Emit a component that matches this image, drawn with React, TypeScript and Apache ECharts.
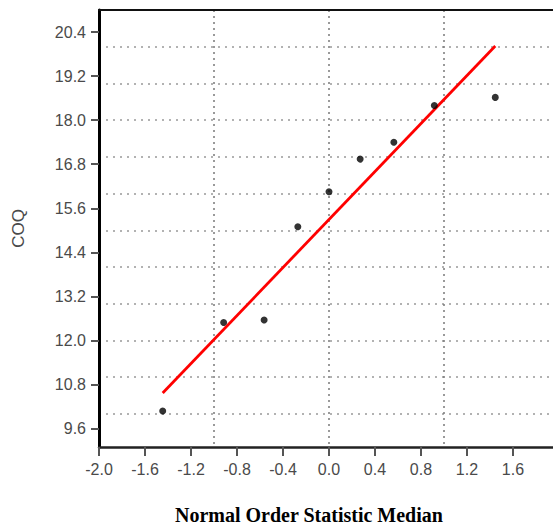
import React, { useEffect, useRef } from "react";
import * as echarts from "echarts";

const xTickLabels = [-2.0, -1.6, -1.2, -0.8, -0.4, 0.0, 0.4, 0.8, 1.2, 1.6];
const yTickLabels = [9.6, 10.8, 12.0, 13.2, 14.4, 15.6, 16.8, 18.0, 19.2, 20.4];
const xGridValues = [-1, 0, 1];
const yGridValues = [10, 11, 12, 13, 14, 15, 16, 17, 18, 19, 20, 21];

// Normal order statistic medians (x) and COQ values (y)
const osm = [-1.446, -0.916, -0.564, -0.271, 0.0, 0.271, 0.564, 0.916, 1.446];
const coq = [10.08, 12.49, 12.56, 15.1, 16.05, 16.94, 17.4, 18.4, 18.62];

// Fitted line end points
const fitX = [-1.446, 1.446];
const fitY = [10.57, 20.02];

const yAxisTitle = "COQ";
const xAxisTitle = "Normal Order Statistic Median";

export default function App() {
  const ref = useRef<HTMLDivElement>(null);

  useEffect(() => {
    if (!ref.current) return;
    const chart = echarts.init(ref.current, null, { renderer: "svg" });
    const labelFont = {
      fontFamily: "Liberation Sans, Arial, sans-serif",
      fontSize: 16,
      color: "#4a4a4a",
    };
    chart.setOption({
      animation: false,
      backgroundColor: "#fff",
      grid: { left: 99, right: 0, top: 10, bottom: 78, containLabel: false },
      xAxis: [
        {
          type: "value",
          min: -2,
          max: 1.948,
          position: "bottom",
          axisLine: { show: true, onZero: false, lineStyle: { color: "#222", width: 2.5 } },
          axisTick: {
            show: true,
            length: 9,
            customValues: xTickLabels,
            lineStyle: { color: "#555", width: 2 },
          },
          axisLabel: {
            show: true,
            customValues: xTickLabels,
            margin: 14,
            formatter: (v: number) => v.toFixed(1),
            ...labelFont,
          },
          splitLine: { show: false },
        },
        {
          type: "value",
          min: -2,
          max: 1.948,
          position: "top",
          axisLine: { show: true, onZero: false, lineStyle: { color: "#111", width: 2 } },
          axisTick: { show: false, customValues: xGridValues },
          axisLabel: { show: false },
          splitLine: {
            show: true,
            lineStyle: { color: "#7a7a7a", width: 1.5, type: [2, 4] },
          },
        },
      ],
      yAxis: [
        {
          type: "value",
          min: 9.1,
          max: 21,
          position: "left",
          name: yAxisTitle,
          nameLocation: "middle",
          nameRotate: 90,
          nameGap: 72,
          nameTextStyle: {
            fontFamily: "Liberation Sans, Arial, sans-serif",
            fontSize: 17,
            color: "#4a4a4a",
          },
          axisLine: { show: true, onZero: false, lineStyle: { color: "#000", width: 3 } },
          axisTick: {
            show: true,
            length: 8,
            customValues: yTickLabels,
            lineStyle: { color: "#555", width: 2 },
          },
          axisLabel: {
            show: true,
            customValues: yTickLabels,
            margin: 13,
            formatter: (v: number) => v.toFixed(1),
            ...labelFont,
          },
          splitLine: { show: false },
        },
        {
          type: "value",
          min: 9.1,
          max: 21,
          position: "right",
          axisLine: { show: false },
          axisTick: { show: false, customValues: yGridValues },
          axisLabel: { show: false },
          splitLine: {
            show: true,
            lineStyle: { color: "#999", width: 1.5, type: [2, 5] },
          },
        },
      ],
      graphic: [
        {
          type: "text",
          left: 175,
          top: 505,
          style: {
            text: xAxisTitle,
            font: "bold 20px 'Liberation Serif', 'Times New Roman', serif",
            fill: "#000",
          },
        },
      ],
      series: [
        {
          type: "line",
          xAxisIndex: 0,
          yAxisIndex: 0,
          data: fitX.map((x, i) => [x, fitY[i]]),
          showSymbol: false,
          lineStyle: { color: "#ff0000", width: 2.8 },
          z: 3,
        },
        {
          type: "scatter",
          xAxisIndex: 0,
          yAxisIndex: 0,
          data: osm.map((x, i) => [x, coq[i]]),
          symbol: "circle",
          symbolSize: 7,
          itemStyle: { color: "#000" },
          z: 4,
        },
      ],
    });
    return () => chart.dispose();
  }, []);

  return (
    <div
      ref={ref}
      style={{ width: 553, height: 525, position: "absolute", left: 0, top: 0 }}
    />
  );
}
